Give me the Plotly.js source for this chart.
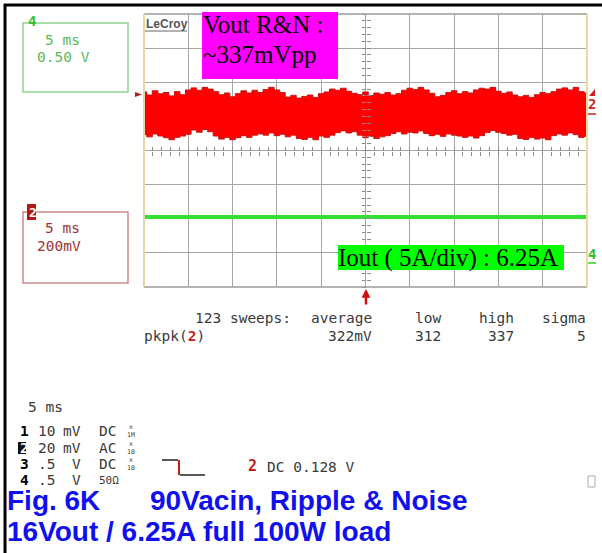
<!DOCTYPE html>
<html>
<head>
<meta charset="utf-8">
<script src="https://cdn.plot.ly/plotly-3.0.1.min.js"></script>
<style>html,body{margin:0;padding:0;background:#fff;}#plot{width:602px;height:553px;}</style>
</head>
<body>
<div id="plot"></div>
<script>
// ---- data ----
// sample times (ms), 1/8 division steps over 10 divisions of 5 ms
const timeMs = [0,0.625,1.25,1.875,2.5,3.125,3.75,4.375,5,5.625,6.25,6.875,7.5,8.125,8.75,9.375,10,10.625,11.25,11.875,12.5,13.125,13.75,14.375,15,15.625,16.25,16.875,17.5,18.125,18.75,19.375,20,20.625,21.25,21.875,22.5,23.125,23.75,24.375,25,25.625,26.25,26.875,27.5,28.125,28.75,29.375,30,30.625,31.25,31.875,32.5,33.125,33.75,34.375,35,35.625,36.25,36.875,37.5,38.125,38.75,39.375,40,40.625,41.25,41.875,42.5,43.125,43.75,44.375,45,45.625,46.25,46.875,47.5,48.125,48.75,49.375,50];
// channel 2 (Vout ripple & noise, AC coupled) upper / lower envelope, mV
const ch2HighMv = [128,110,135,118,125,105,130,112,140,152,138,155,145,130,112,122,100,118,135,122,138,125,142,155,140,125,98,108,92,102,110,96,118,128,145,138,150,132,120,112,128,108,122,115,125,110,118,138,150,142,155,140,120,100,108,125,135,118,130,122,140,150,145,155,132,120,128,110,100,108,96,112,125,118,130,145,152,140,155,130,122];
const ch2LowMv = [-122,-135,-118,-130,-140,-152,-138,-130,-120,-95,-108,-92,-105,-130,-148,-138,-152,-140,-128,-138,-125,-118,-125,-112,-128,-120,-135,-125,-145,-150,-138,-152,-130,-138,-125,-110,-100,-112,-105,-125,-140,-132,-145,-135,-128,-115,-105,-118,-108,-112,-100,-115,-128,-120,-132,-118,-125,-130,-138,-130,-142,-128,-110,-98,-108,-115,-125,-120,-145,-150,-138,-148,-142,-152,-128,-118,-125,-112,-122,-138,-132];
// channel 4 (Iout) level, A
const ch4TimeMs = [0,5,10,15,20,25,30,35,40,45,50];
const ch4Amps = [6.25,6.25,6.25,6.25,6.25,6.25,6.25,6.25,6.25,6.25,6.25];
// measurement table
const measHeaders = ["average","low","high","sigma"];
const measValues = ["322mV","312","337","5"];
const sweeps = "123 sweeps:";
// channel setup rows
const chNums = ["1","2","3","4"];
const chScale = ["10","20",".5",".5"];
const chUnit = ["mV","mV","V","V"];
const chCoupling = ["DC","AC","DC","50Ω"];
const chProbe = ["x<br>1M","x<br>10","x<br>10",""];

// ---- geometry helpers (pixel -> paper) ----
const L = 144, R = 587, T = 14, B = 287;
const px = x => (x - L) / (R - L);
const py = y => (B - y) / (B - T);

const mono = "DejaVu Sans Mono, monospace";
const scopeGrey = "#3a3a3a";

const traces = [
  {x: timeMs, y: ch2LowMv, mode: "lines", line: {color: "#c81212", width: 1, shape: "hvh"}, hoverinfo: "skip"},
  {x: timeMs, y: ch2HighMv, mode: "lines", line: {color: "#c81212", width: 1, shape: "hvh"}, fill: "tonexty", fillcolor: "#ff0000", hoverinfo: "skip"},
  {x: ch4TimeMs, y: ch4Amps, yaxis: "y2", mode: "lines", line: {color: "#33dd33", width: 4}, hoverinfo: "skip"},
  {x: [], y: [], xaxis: "x2", yaxis: "y"},
  {x: [], y: [], xaxis: "x3", yaxis: "y"},
  {x: [], y: [], xaxis: "x", yaxis: "y3"},
  {x: [], y: [], xaxis: "x", yaxis: "y4"}
];

function line(x0, y0, x1, y1, color, width, layer) {
  return {type: "line", xref: "paper", yref: "paper", x0: px(x0), y0: py(y0), x1: px(x1), y1: py(y1),
          line: {color: color, width: width}, layer: layer || "above"};
}
function rect(x0, y0, x1, y1, lineColor, lineWidth, fill) {
  return {type: "rect", xref: "paper", yref: "paper", x0: px(x0), y0: py(y0), x1: px(x1), y1: py(y1),
          line: {color: lineColor || "rgba(0,0,0,0)", width: lineWidth || 0}, fillcolor: fill || "rgba(0,0,0,0)", layer: "above"};
}
function tri(pts, color) {
  let p = pts.map((q, i) => (i ? "L" : "M") + px(q[0]) + "," + py(q[1])).join(" ") + " Z";
  return {type: "path", xref: "paper", yref: "paper", path: p, fillcolor: color, line: {width: 0}, layer: "above"};
}

const shapes = [
  line(4, 5, 602, 5, "#000", 3),
  line(5, 4, 5, 553, "#000", 3),
  line(L, T, R, T, "#9a9a9a", 1.5),
  line(L, B, R, B, "#9a9a9a", 1.5),
  line(L, T, L, B, "#e3d6a6", 2),
  line(R, T, R, B, "#e8d99e", 2),
  rect(23, 23, 128, 92, "#8fd48f", 1.5),
  rect(23, 212, 128, 283, "#cc8a8a", 1.5),
  rect(27, 204, 36, 220, null, 0, "#b01818"),
  rect(202, 12, 338, 79, null, 0, "#ff00ff"),
  rect(338, 245, 564, 270, null, 0, "#00ff00"),
  line(145, 31, 187, 31, "#666", 1),
  tri([[135, 92], [142, 94.5], [135, 97]], "#b02020"),
  tri([[589, 96], [595, 89], [595, 96]], "#cc2222"),
  line(588, 114, 596, 114, "#cc2222", 1.5),
  line(588, 263, 596, 263, "#33cc33", 1.5),
  line(162, 460, 178, 460, "#222", 1.5),
  line(179, 460, 179, 475, "#c02020", 2),
  line(180, 475, 205, 475, "#222", 1.5),
  rect(588, 476, 595, 487, "#aaaaaa", 1),
  rect(18, 442, 26, 454, null, 0, "#111")
];

function ann(text, x, y, opts) {
  const o = opts || {};
  return {text: text, xref: "paper", yref: "paper", x: px(x), y: py(y), showarrow: false,
          xanchor: o.xa || "left", yanchor: "middle", borderpad: 0,
          font: {family: o.family || mono, size: o.size || 14.5, color: o.color || scopeGrey}};
}

const serif = "Liberation Serif, Times New Roman";
const annotations = [
  ann("<b>LeCroy</b>", 145, 24, {family: "Liberation Sans, Arial", size: 12, color: "#555"}),
  ann("Vout R&N :", 202, 25, {family: serif, size: 25, color: "#000"}),
  ann("~337mVpp", 202, 54, {family: serif, size: 25, color: "#000"}),
  ann("Iout ( 5A/div) : 6.25A", 337, 257.5, {family: serif, size: 25, color: "#000"}),
  ann("<b>4</b>", 27, 21, {size: 14, color: "#33bb33"}),
  ann("5 ms", 44, 40, {color: "#5cb85c"}),
  ann("0.50 V", 36, 57, {color: "#5cb85c"}),
  ann("<b>2</b>", 27.5, 212, {size: 13, color: "#fff"}),
  ann("5 ms", 44, 228, {color: "#9c3434"}),
  ann("200mV", 36, 245.5, {color: "#9c3434"}),
  ann("<b>2</b>", 587, 104, {size: 14, color: "#cc2222"}),
  ann("<b>4</b>", 587, 254, {size: 14, color: "#33bb33"}),
  ann(sweeps, 292, 318, {xa: "right"}),
  ann("pkpk(<b><span style='color:#c02020'>2</span></b>)", 143, 336),
  ann("5 ms", 27, 407),
  ann("<b><span style='color:#c02020'>2</span></b>", 247, 466, {size: 15}),
  ann("DC 0.128 V", 266, 467),
  ann("<b>Fig. 6K</b>", 6, 501, {family: "Liberation Sans, Arial", size: 28, color: "#1010ee"}),
  ann("<b>90Vacin, Ripple & Noise</b>", 149, 501, {family: "Liberation Sans, Arial", size: 28, color: "#1010ee"}),
  ann("<b>16Vout / 6.25A full 100W load</b>", 6, 531, {family: "Liberation Sans, Arial", size: 28, color: "#1010ee"}),
  {text: "", xref: "paper", yref: "paper", x: px(366), y: py(289), ax: 0, ay: 17, showarrow: true,
   arrowhead: 2, arrowsize: 0.7, arrowwidth: 2.5, arrowcolor: "#d01010"}
];
const colRight = [373, 442, 515, 587];
measHeaders.forEach((h, i) => annotations.push(ann(h, colRight[i], 318, {xa: "right"})));
measValues.forEach((v, i) => annotations.push(ann(v, colRight[i], 336, {xa: "right"})));
const rowY = [431, 447.5, 464, 480];
chNums.forEach((n, i) => {
  annotations.push(ann("<b>" + n + "</b>", 19, rowY[i], {color: i === 1 ? "#fff" : "#000"}));
  annotations.push(ann(chScale[i], 37, rowY[i]));
  annotations.push(ann(chUnit[i], chUnit[i] === "V" ? 71 : 62, rowY[i]));
  annotations.push(ann(chCoupling[i], 98, rowY[i], {size: i === 3 ? 11 : 14.5}));
  if (chProbe[i]) annotations.push(ann(chProbe[i], 126, rowY[i], {size: 6.5}));
});

const centerTickAxis = (ticks) => ({overlaying: "x", anchor: "free", position: 0.5, range: [0, 50], tick0: 0, dtick: 1,
  ticks: ticks, ticklen: 4, tickwidth: 1, tickcolor: "#8a8a8a", showgrid: false, zeroline: false, showline: false, showticklabels: false});
const centerTickAxisY = (ticks) => ({overlaying: "y", anchor: "free", position: 0.5, range: [-4, 4], tick0: 0, dtick: 0.2,
  ticks: ticks, ticklen: 4, tickwidth: 1, tickcolor: "#8a8a8a", showgrid: false, zeroline: false, showline: false, showticklabels: false});

const layout = {
  width: 602, height: 553,
  margin: {l: L, r: 602 - R, t: T, b: 553 - B, pad: 0},
  paper_bgcolor: "#fff", plot_bgcolor: "#fff",
  showlegend: false,
  xaxis: {range: [0, 50], tick0: 0, dtick: 5, showgrid: true, gridcolor: "#a6a6a6", gridwidth: 1,
          zeroline: false, showticklabels: false, ticks: "", showline: false, fixedrange: true},
  yaxis: {range: [-1015, 585], tick0: -15, dtick: 200, showgrid: true, gridcolor: "#a6a6a6", gridwidth: 1,
          zeroline: false, showticklabels: false, ticks: "", showline: false, fixedrange: true},
  yaxis2: {overlaying: "y", range: [-4, 36], visible: false, fixedrange: true},
  xaxis2: centerTickAxis("inside"),
  xaxis3: centerTickAxis("outside"),
  yaxis3: centerTickAxisY("inside"),
  yaxis4: centerTickAxisY("outside"),
  shapes: shapes,
  annotations: annotations
};

Plotly.newPlot("plot", traces, layout, {displayModeBar: false, staticPlot: true});
</script>
</body>
</html>
